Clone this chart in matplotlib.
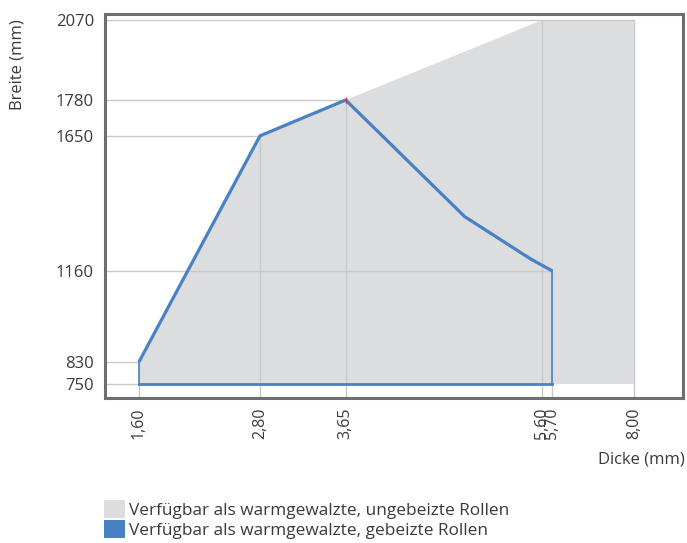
import numpy as np
import matplotlib
matplotlib.use("Agg")
import matplotlib.pyplot as plt
from matplotlib.patches import Patch

plt.rcParams['font.family'] = ['Open Sans', 'DejaVu Sans']

# ticks
x_ticks = [1.60, 2.80, 3.65, 5.60, 5.70, 8.00]
y_ticks = [750, 830, 1160, 1650, 1780, 2070]

# grey area: hot rolled, not pickled
grey_x = [1.60, 1.60, 2.80, 3.65, 5.60, 8.00, 8.00]
grey_y = [750, 830, 1650, 1780, 2070, 2070, 750]

# blue outline: hot rolled, pickled
blue_x = [1.60, 2.80, 3.65, 4.83, 5.49, 5.70]
blue_y = [830, 1650, 1780, 1357, 1202, 1160]

# drop lines: tick value -> where it meets the boundary
v_top = [830, 1650, 1780, 2070, 1160, 2070]
h_end = [1.60, 1.60, 5.70, 2.80, 3.65, 8.00]

xmin, xmax = 1.263, 9.39
ymin, ymax = 699, 2092

# x axis is stretched up to 5.70 and compressed after that
k = 0.351
def fwd(x):
    x = np.asarray(x, dtype=float)
    return np.where(x <= 5.7, x, 5.7 + (x - 5.7) * k)
def inv(x):
    x = np.asarray(x, dtype=float)
    return np.where(x <= 5.7, x, 5.7 + (x - 5.7) / k)

fig = plt.figure(figsize=(6.87, 5.43), dpi=100)
ax = fig.add_axes([105/687, 1 - 398/543, (683 - 105)/687, (398 - 14)/543])
ax.set_xscale('function', functions=(fwd, inv))
ax.set_xlim(xmin, xmax)
ax.set_ylim(ymin, ymax)

grey = "#dcdddf"
blue = "#4a80c4"
gcol = "#c9c9c9"
tcol = "#3a3a3a"

ax.fill(grey_x, grey_y, color=grey, lw=0, zorder=1)

for xv, yt in zip(x_ticks, v_top):
    ax.plot([xv, xv], [ymin, yt], color=gcol, lw=1, zorder=2)
for yv, xe in zip(y_ticks, h_end):
    ax.plot([xmin, xe], [yv, yv], color=gcol, lw=1, zorder=2)

ax.plot(blue_x, blue_y, color=blue, lw=2.3, zorder=3, solid_capstyle='butt')
ax.plot([blue_x[0], blue_x[-1]], [750, 750], color=blue, lw=2, zorder=3)
ax.plot([blue_x[0], blue_x[0]], [750, blue_y[0]], color=blue, lw=1.2, zorder=3)
ax.plot([blue_x[-1], blue_x[-1]], [750, blue_y[-1]], color=blue, lw=1.2, zorder=3)
ax.plot([3.65], [1780], marker='|', color='#e8303a', ms=4, mew=1, zorder=4)

ax.set_xticks(x_ticks)
ax.set_xticklabels([f"{v:.2f}".replace('.', ',') for v in x_ticks], rotation=90)
ax.set_yticks(y_ticks)
ax.set_yticklabels([str(v) for v in y_ticks])
ax.tick_params(length=0, labelsize=12, colors=tcol, pad=7)
ax.tick_params(axis='y', pad=8)
ax.tick_params(axis='x', labelsize=11.5)
ax.minorticks_off()

for s in ax.spines.values():
    s.set_color('#6e6e6e')
    s.set_linewidth(2.2)

fig.text(18/687, 1 - 19/543, "Breite (mm)", rotation=90, ha='center', va='top',
         fontsize=12, color=tcol)
fig.text(685/687, 1 - 460/543, "Dicke (mm)", ha='right', va='center',
         fontsize=12, color=tcol)

handles = [Patch(facecolor=grey, edgecolor='none'), Patch(facecolor=blue, edgecolor='none')]
labels = ["Verfügbar als warmgewalzte, ungebeizte Rollen",
          "Verfügbar als warmgewalzte, gebeizte Rollen"]
fig.legend(handles, labels, loc='upper left', bbox_to_anchor=(95/687, 1 - 491/543),
           frameon=False, fontsize=12.4, handlelength=1.25, handleheight=1.25,
           handletextpad=0.2, labelspacing=0.08, labelcolor=tcol, borderpad=0)

fig.savefig("out.png", dpi=100)
